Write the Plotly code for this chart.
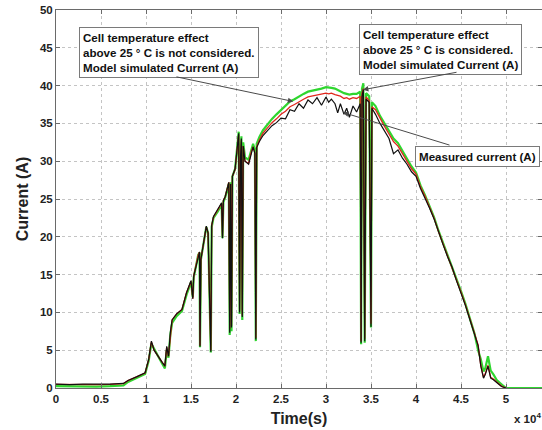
import plotly.graph_objects as go

# time in seconds (axis labelled in units of 1e4 s)
time_s = [0, 1500, 3000, 4500, 6000, 7500, 8000, 9000, 9900, 10300,
          10600, 10900, 11400, 11800, 12100, 12300, 12500, 12700, 12900, 13400,
          14000, 14500, 15000, 15200, 15300, 15800, 15950, 16000, 16100, 16700,
          16900, 17200, 17300, 17500, 18000, 18400, 18500, 18600, 18800, 19200,
          19300, 19400, 19500, 19600, 19900, 20100, 20300, 20400, 20500, 20600,
          20700, 20800, 21000, 21400, 21700, 21900, 22100, 22200, 22300, 22600,
          23000, 23500, 24000, 24500, 25000, 25500, 26000, 26500, 27000, 27500,
          28000, 28500, 29000, 29500, 30000, 30300, 30600, 31000, 31300, 31600,
          32000, 32300, 32600, 33000, 33400, 33800, 33900, 34000, 34150, 34300,
          34450, 34800, 35000, 35100, 35500, 36000, 36500, 37000, 37500, 38000,
          38500, 39000, 39500, 40000, 40500, 41000, 41500, 42000, 42500, 43000,
          43500, 44000, 44500, 45000, 45500, 46000, 46500, 46900, 47200, 47500,
          47700, 48000, 48300, 48600, 49000, 49500, 50000, 54000]

measured = [0.50, 0.45, 0.52, 0.46, 0.50, 0.60, 1.00, 1.50, 2.00, 3.80,
            6.20, 5.00, 4.20, 3.40, 2.90, 5.50, 4.20, 7.30, 9.00, 9.80,
            10.40, 12.60, 14.20, 11.80, 14.80, 17.60, 18.00, 5.50, 17.00, 21.40,
            20.50, 4.80, 21.50, 22.70, 23.60, 24.50, 19.80, 24.80, 25.30, 27.20,
            7.30, 27.00, 8.00, 28.00, 29.00, 31.00, 33.70, 10.00, 30.50, 33.00,
            9.40, 32.00, 30.00, 29.60, 31.20, 31.90, 31.00, 6.40, 31.80, 32.60,
            33.40, 34.00, 34.70, 35.10, 35.70, 35.60, 36.80, 36.60, 37.60, 37.00,
            38.10, 37.60, 38.40, 37.40, 38.50, 37.80, 38.20, 37.60, 36.40, 37.60,
            36.20, 37.00, 35.80, 37.30, 36.50, 37.60, 6.00, 38.50, 39.50, 6.20,
            38.20, 37.80, 8.10, 37.00, 36.20, 35.00, 34.00, 33.00, 31.00, 31.50,
            30.40, 29.60, 28.60, 28.00, 26.40, 25.20, 23.80, 22.40, 20.60, 19.00,
            17.40, 16.00, 14.20, 12.60, 10.90, 9.00, 7.00, 5.60, 2.90, 1.30,
            1.80, 2.90, 1.30, 1.10, 0.70, 0.20, 0.00, None]

temp_considered = [0.48, 0.44, 0.50, 0.45, 0.49, 0.58, 0.98, 1.48, 1.98, 3.75,
                   6.10, 5.00, 4.20, 3.40, 2.90, 5.40, 4.20, 7.20, 9.00, 9.80,
                   10.40, 12.60, 14.10, 11.80, 14.80, 17.60, 18.00, 5.60, 17.00, 21.30,
                   20.50, 5.00, 21.50, 22.60, 23.60, 24.40, 20.00, 24.80, 25.30, 27.20,
                   7.80, 27.00, 8.20, 28.00, 28.90, 31.00, 33.50, 10.20, 30.50, 32.80,
                   9.60, 32.00, 30.00, 29.70, 31.30, 31.90, 31.10, 6.60, 31.90, 32.80,
                   33.70, 34.40, 35.10, 35.60, 36.20, 36.60, 37.20, 37.50, 37.90, 38.20,
                   38.50, 38.60, 38.80, 38.90, 39.00, 38.90, 39.00, 38.80, 38.70, 38.60,
                   38.30, 38.40, 38.20, 38.40, 38.30, 38.60, 6.20, 39.00, 39.60, 6.50,
                   38.50, 38.00, 8.50, 37.20, 36.80, 35.60, 34.60, 33.60, 32.60, 32.00,
                   31.00, 30.00, 29.00, 28.30, 26.60, 25.40, 23.90, 22.50, 20.70, 19.10,
                   17.50, 16.10, 14.30, 12.70, 11.00, 9.10, 7.10, 5.70, 3.00, 1.40,
                   1.90, 3.00, 1.40, 1.20, 0.75, 0.25, 0.00, None]

temp_not_considered = [0.25, 0.20, 0.22, 0.18, 0.24, 0.35, 0.80, 1.30, 1.85, 3.60,
                       5.90, 5.20, 4.00, 3.20, 2.60, 5.00, 4.00, 7.00, 8.60, 9.50,
                       10.20, 12.30, 14.00, 12.00, 14.60, 17.60, 17.90, 5.40, 17.00, 21.30,
                       20.50, 4.70, 21.30, 22.50, 23.40, 24.30, 19.80, 24.60, 25.20, 27.00,
                       7.00, 27.20, 7.50, 28.00, 29.00, 31.20, 33.90, 9.80, 30.80, 33.30,
                       9.00, 32.50, 30.50, 30.20, 31.60, 32.30, 31.50, 6.20, 32.30, 33.20,
                       34.10, 34.90, 35.60, 36.20, 36.80, 37.30, 37.90, 38.20, 38.60, 38.90,
                       39.20, 39.30, 39.50, 39.60, 39.80, 39.70, 39.70, 39.60, 39.40, 39.30,
                       39.00, 38.90, 38.80, 38.90, 38.90, 39.20, 5.80, 39.60, 40.30, 6.00,
                       39.00, 38.60, 8.00, 37.80, 37.30, 36.00, 35.00, 34.00, 33.00, 32.40,
                       31.40, 30.30, 29.30, 28.50, 26.80, 25.50, 24.00, 22.60, 20.80, 19.20,
                       17.60, 16.20, 14.40, 12.80, 11.10, 9.20, 7.20, 5.00, 3.80, 2.20,
                       2.60, 4.20, 2.30, 1.80, 1.00, 0.50, 0.00, 0.00]

tick_vals = [0, 5000, 10000, 15000, 20000, 25000, 30000, 35000, 40000, 45000, 50000]
tick_text = ["0", "0.5", "1", "1.5", "2", "2.5", "3", "3.5", "4", "4.5", "5"]

FONT = "Liberation Sans"

fig = go.Figure()
fig.add_trace(go.Scatter(x=time_s, y=temp_not_considered, mode="lines",
                         line=dict(color="#2fd62f", width=2.2), name="not considered"))
fig.add_trace(go.Scatter(x=time_s, y=temp_considered, mode="lines",
                         line=dict(color="#e0261c", width=1.3), name="considered"))
fig.add_trace(go.Scatter(x=time_s, y=measured, mode="lines",
                         line=dict(color="#111111", width=1.2), name="measured"))

axis_common = dict(
    showgrid=True, gridcolor="#c4c4c4", griddash="dot", gridwidth=1,
    showline=True, linecolor="#6a6a6a", linewidth=1, mirror="ticks",
    ticks="inside", ticklen=4, tickcolor="#6a6a6a",
    zeroline=False, automargin=False,
    tickfont=dict(family=FONT, size=11.5, color="#222", weight="bold"),
)

fig.update_layout(
    width=542, height=430,
    margin=dict(l=56, r=0, t=10, b=42, pad=0),
    paper_bgcolor="white", plot_bgcolor="white",
    showlegend=False,
    xaxis=dict(range=[0, 54000], tickvals=tick_vals, ticktext=tick_text,
               title=dict(text="Time(s)", standoff=9,
                          font=dict(family=FONT, size=16, color="#222", weight="bold")),
               **axis_common),
    yaxis=dict(range=[0, 50], dtick=5,
               title=dict(text="Current (A)", standoff=7,
                          font=dict(family=FONT, size=16, color="#222", weight="bold")),
               **axis_common),
)

box_style = dict(xref="x", yref="y", xanchor="left", yanchor="top", align="left",
                 showarrow=False, bgcolor="white", bordercolor="#7a7a7a",
                 borderwidth=1, borderpad=3,
                 font=dict(family=FONT, size=11.6, color="#111", weight="bold"))

fig.add_annotation(x=2556, y=47.7,
                   text="Cell temperature effect<br>above 25 ° C is not considered.<br>Model simulated Current (A)",
                   **box_style)
fig.add_annotation(x=33667, y=48.2,
                   text="Cell temperature effect<br>above 25 ° C is considered.<br>Model simulated Current (A)",
                   **box_style)
fig.add_annotation(x=39889, y=32.05, text="Measured current (A)", **box_style)

# arrows from boxes to curves
arrows = [
    (26370, 37.9, 13220, 41.2),
    (34100, 39.45, 44670, 41.8),
    (31890, 36.45, 43890, 32.07),
]
for hx, hy, tx, ty in arrows:
    fig.add_annotation(x=hx, y=hy, ax=tx, ay=ty, xref="x", yref="y", axref="x", ayref="y",
                       text="", showarrow=True, arrowhead=2, arrowsize=1.1,
                       arrowwidth=1, arrowcolor="#4a4a4a", standoff=0, startstandoff=0)

fig.add_annotation(x=(512 - 56) / 486, y=-0.08, xref="paper", yref="paper",
                   xanchor="left", yanchor="middle", showarrow=False,
                   text="x 10<sup>4</sup>",
                   font=dict(family=FONT, size=11.5, color="#222", weight="bold"))

# drop the default 8px page margin so the figure sits flush with the window
fig.write_html("out.html", config={"displayModeBar": False},
               post_script="document.body.style.margin='0';")
